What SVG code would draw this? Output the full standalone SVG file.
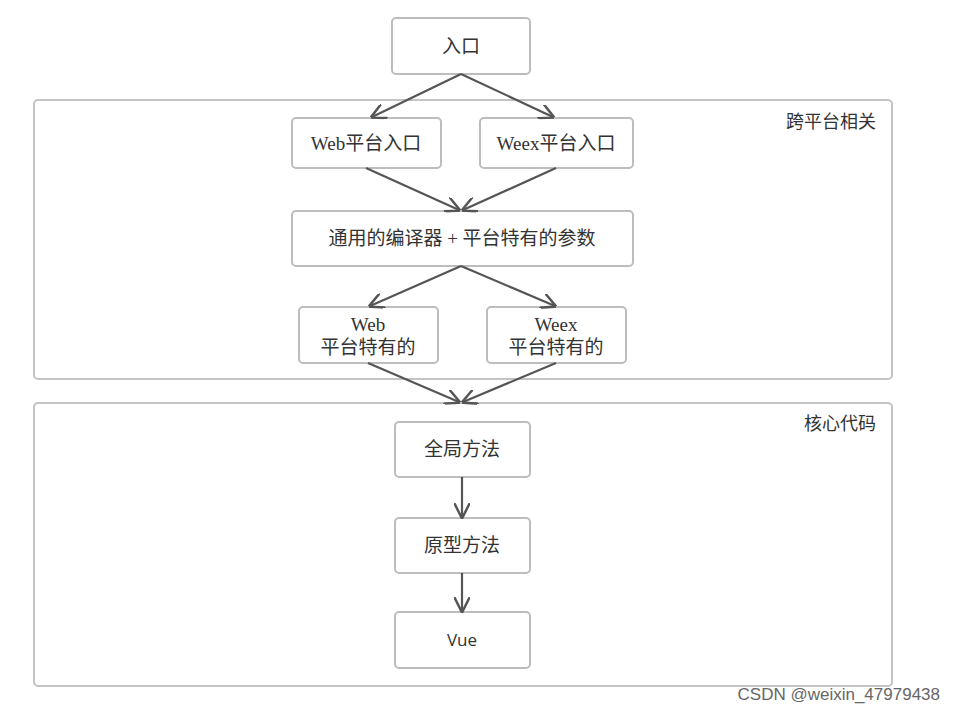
<svg xmlns="http://www.w3.org/2000/svg" width="956" height="713" viewBox="0 0 956 713">
<style>
.n{fill:#fff;stroke:#bdbdbd;stroke-width:2}
.g{fill:none;stroke:#c4c4c4;stroke-width:2}
.t{font-family:"Liberation Serif","Noto Sans CJK SC",serif;font-size:19px;fill:#333;text-anchor:middle}
.s{font-family:"Noto Sans CJK SC",sans-serif;font-size:18px;fill:#333;text-anchor:end}
.c{fill:none;stroke:#555;stroke-width:2.2;marker-end:url(#a)}
</style>
<defs><marker id="a" viewBox="0 0 10 10" refX="9" refY="5" markerWidth="7" markerHeight="7" orient="auto"><path d="M0,0L10,5L0,10" fill="none" stroke="#555" stroke-width="1.6"/></marker></defs>
<rect width="956" height="713" fill="#fff"/>
<g id="group1"><rect class="g" x="34" y="100" width="858" height="279" rx="4"/><text class="s" x="876" y="128">跨平台相关</text></g>
<g id="group2"><rect class="g" x="34" y="403" width="858" height="283" rx="4"/><text class="s" x="876" y="430">核心代码</text></g>
<g id="entry"><rect class="n" x="392" y="18" width="138" height="56" rx="4"/><text class="t" x="461" y="53">入口</text></g>
<g id="web-entry"><rect class="n" x="292" y="118" width="149" height="50" rx="4"/><text class="t" x="366" y="150">Web平台入口</text></g>
<g id="weex-entry"><rect class="n" x="480" y="118" width="153" height="50" rx="4"/><text class="t" x="556" y="150">Weex平台入口</text></g>
<g id="compiler"><rect class="n" x="292" y="211" width="341" height="55" rx="4"/><text class="t" x="462" y="245">通用的编译器 + 平台特有的参数</text></g>
<g id="web-specific"><rect class="n" x="299" y="307" width="139" height="56" rx="4"/><text class="t" x="368" y="331">Web</text><text class="t" x="368" y="354">平台特有的</text></g>
<g id="weex-specific"><rect class="n" x="487" y="307" width="139" height="56" rx="4"/><text class="t" x="556" y="331">Weex</text><text class="t" x="556" y="354">平台特有的</text></g>
<g id="global"><rect class="n" x="395" y="422" width="135" height="55" rx="4"/><text class="t" x="462" y="456">全局方法</text></g>
<g id="proto"><rect class="n" x="395" y="518" width="135" height="55" rx="4"/><text class="t" x="462" y="552">原型方法</text></g>
<g id="vue"><rect class="n" x="395" y="612" width="135" height="56" rx="4"/><text class="t" x="462" y="646" style="font-family:'Open Sans',sans-serif;font-size:17px">Vue</text></g>
<g id="connectors">
<path class="c" d="M461,74L372,117"/><path class="c" d="M461,74L553,117"/>
<path class="c" d="M366,168L459,210"/><path class="c" d="M556,168L463,210"/>
<path class="c" d="M461,266L370,306"/><path class="c" d="M461,266L555,306"/>
<path class="c" d="M368,363L459,402"/><path class="c" d="M556,363L463,402"/>
<path class="c" d="M462,477V517"/><path class="c" d="M462,573V611"/>
</g>
<text x="940" y="700" style="font-family:'Liberation Sans',sans-serif;font-size:17px;fill:#666;text-anchor:end">CSDN @weixin_47979438</text>
</svg>
